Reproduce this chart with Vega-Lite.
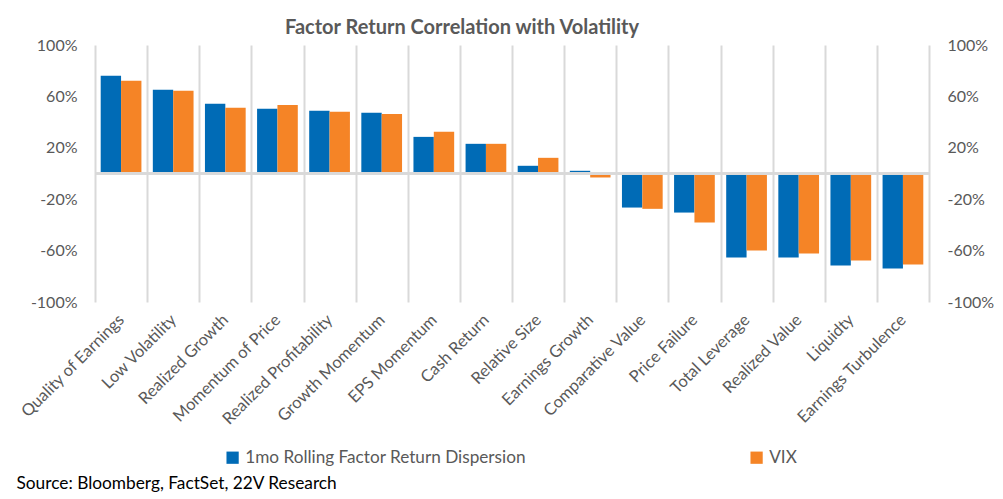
{
  "$schema": "https://vega.github.io/schema/vega-lite/v6.json",
  "width": 834,
  "height": 257,
  "autosize": {"type": "none"},
  "padding": {"left": 95, "top": 45, "right": 74, "bottom": 197},
  "background": "white",
  "config": {"view": {"stroke": null}, "font": "Lato"},
  "title": {
    "text": "Factor Return Correlation with Volatility",
    "font": "Lato",
    "fontSize": 20,
    "fontWeight": "bold",
    "color": "#595959",
    "anchor": "middle",
    "dx": -50,
    "offset": -1
  },
  "data": {
    "values": [
      {"factor": "Quality of Earnings", "series": "1mo Rolling Factor Return Dispersion", "value": 76.0},
      {"factor": "Quality of Earnings", "series": "VIX", "value": 72.1},
      {"factor": "Low Volatility", "series": "1mo Rolling Factor Return Dispersion", "value": 65.1},
      {"factor": "Low Volatility", "series": "VIX", "value": 64.3},
      {"factor": "Realized Growth", "series": "1mo Rolling Factor Return Dispersion", "value": 54.2},
      {"factor": "Realized Growth", "series": "VIX", "value": 51.1},
      {"factor": "Momentum of Price", "series": "1mo Rolling Factor Return Dispersion", "value": 50.3},
      {"factor": "Momentum of Price", "series": "VIX", "value": 53.4},
      {"factor": "Realized Profitability", "series": "1mo Rolling Factor Return Dispersion", "value": 48.8},
      {"factor": "Realized Profitability", "series": "VIX", "value": 48.0},
      {"factor": "Growth Momentum", "series": "1mo Rolling Factor Return Dispersion", "value": 47.2},
      {"factor": "Growth Momentum", "series": "VIX", "value": 46.4},
      {"factor": "EPS Momentum", "series": "1mo Rolling Factor Return Dispersion", "value": 28.5},
      {"factor": "EPS Momentum", "series": "VIX", "value": 32.4},
      {"factor": "Cash Return", "series": "1mo Rolling Factor Return Dispersion", "value": 23.1},
      {"factor": "Cash Return", "series": "VIX", "value": 23.1},
      {"factor": "Relative Size", "series": "1mo Rolling Factor Return Dispersion", "value": 6.0},
      {"factor": "Relative Size", "series": "VIX", "value": 12.2},
      {"factor": "Earnings Growth", "series": "1mo Rolling Factor Return Dispersion", "value": 2.1},
      {"factor": "Earnings Growth", "series": "VIX", "value": -3.1},
      {"factor": "Comparative Value", "series": "1mo Rolling Factor Return Dispersion", "value": -26.5},
      {"factor": "Comparative Value", "series": "VIX", "value": -27.5},
      {"factor": "Price Failure", "series": "1mo Rolling Factor Return Dispersion", "value": -30.4},
      {"factor": "Price Failure", "series": "VIX", "value": -38.1},
      {"factor": "Total Leverage", "series": "1mo Rolling Factor Return Dispersion", "value": -65.4},
      {"factor": "Total Leverage", "series": "VIX", "value": -59.9},
      {"factor": "Realized Value", "series": "1mo Rolling Factor Return Dispersion", "value": -65.4},
      {"factor": "Realized Value", "series": "VIX", "value": -62.3},
      {"factor": "Liquidty", "series": "1mo Rolling Factor Return Dispersion", "value": -71.6},
      {"factor": "Liquidty", "series": "VIX", "value": -67.7},
      {"factor": "Earnings Turbulence", "series": "1mo Rolling Factor Return Dispersion", "value": -73.9},
      {"factor": "Earnings Turbulence", "series": "VIX", "value": -70.8}
    ]
  },
  "layer": [
    {
      "mark": {"type": "bar"},
      "encoding": {
        "x": {
          "field": "factor",
          "type": "nominal",
          "sort": null,
          "scale": {"paddingInner": 0, "paddingOuter": 0},
          "axis": {
            "grid": true,
            "gridColor": "#d9d9d9",
            "gridWidth": 2,
            "tickBand": "extent",
            "ticks": false,
            "domain": false,
            "labelAngle": -45,
            "labelAlign": "right",
            "labelBaseline": "middle",
            "labelFontSize": 16.5,
            "labelColor": "#595959",
            "labelPadding": 15,
            "labelLimit": 300,
            "title": "Source: Bloomberg, FactSet, 22V Research",
            "titleX": -79,
            "titleY": 186,
            "titleAlign": "left",
            "titleAnchor": "start",
            "titleAngle": 0,
            "titleBaseline": "alphabetic",
            "titleFontSize": 17.3,
            "titleFontWeight": "normal",
            "titleColor": "#000000"
          }
        },
        "xOffset": {
          "field": "series",
          "type": "nominal",
          "sort": ["1mo Rolling Factor Return Dispersion", "VIX"],
          "scale": {"paddingInner": 0, "paddingOuter": 0.28}
        },
        "y": {
          "field": "value",
          "type": "quantitative",
          "scale": {"domain": [-100, 100], "nice": false},
          "axis": {
            "orient": "left",
            "title": null,
            "grid": false,
            "ticks": false,
            "domain": false,
            "values": [-100, -60, -20, 20, 60, 100],
            "labelExpr": "datum.value + '%'",
            "labelFontSize": 16,
            "labelColor": "#595959",
            "labelPadding": 18
          }
        },
        "color": {
          "field": "series",
          "type": "nominal",
          "sort": ["1mo Rolling Factor Return Dispersion", "VIX"],
          "scale": {"domain": ["1mo Rolling Factor Return Dispersion", "VIX"], "range": ["#006BB6", "#F58426"]},
          "legend": {
            "title": null,
            "orient": "none",
            "legendX": 129,
            "legendY": 404,
            "direction": "horizontal",
            "symbolType": "square",
            "symbolSize": 150,
            "symbolStrokeWidth": 0,
            "labelFontSize": 17.2,
            "labelColor": "#595959",
            "labelLimit": 400,
            "columnPadding": 222
          }
        }
      }
    },
    {
      "mark": {"type": "rule", "color": "#d9d9d9", "strokeWidth": 2},
      "encoding": {
        "y": {
          "datum": 0,
          "type": "quantitative",
          "scale": {"domain": [-100, 100], "nice": false},
          "axis": {
            "orient": "right",
            "title": null,
            "grid": false,
            "ticks": false,
            "domain": false,
            "values": [-100, -60, -20, 20, 60, 100],
            "labelExpr": "datum.value + '%'",
            "labelFontSize": 16,
            "labelColor": "#595959",
            "labelPadding": 18
          }
        }
      }
    }
  ],
  "resolve": {"scale": {"y": "independent"}}
}
